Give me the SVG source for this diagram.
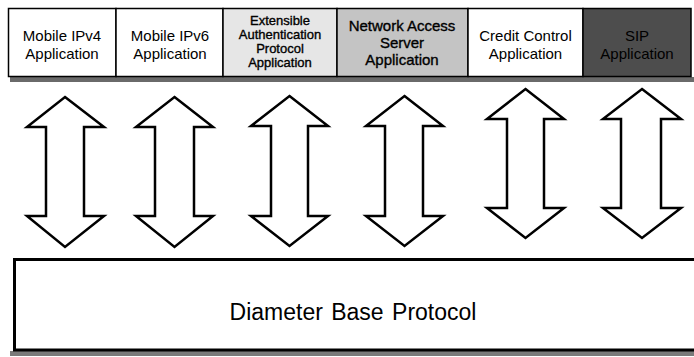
<svg xmlns="http://www.w3.org/2000/svg" width="694" height="357" viewBox="0 0 694 357">
<style>
.box{stroke:#000;stroke-width:1.5}
.t{font-family:"Liberation Sans",Arial,sans-serif;fill:#000;text-anchor:middle}
.t15{font-size:15px}
.t13{font-size:13px}
.heavy{stroke:#000;stroke-width:0.35}
.arr{fill:#fff;stroke:#000;stroke-width:2.5;stroke-linejoin:miter}
</style>
<rect width="694" height="357" fill="#fff"/>
<rect x="10" y="77" width="684" height="5" fill="#6a6a6a"/>
<g id="mobile-ipv4">
<rect class="box" x="8.5" y="8.5" width="107.5" height="68" fill="#fff"/>
<text class="t t15" x="62" y="41">Mobile IPv4</text>
<text class="t t15" x="62" y="59">Application</text>
</g>
<g id="mobile-ipv6">
<rect class="box" x="116" y="8.5" width="107" height="68" fill="#fff"/>
<text class="t t15" x="170" y="41">Mobile IPv6</text>
<text class="t t15" x="170" y="59">Application</text>
</g>
<g id="eap">
<rect class="box" x="223" y="8.5" width="114" height="68" fill="#e6e6e6"/>
<text class="t t13 heavy" x="280" y="25">Extensible</text>
<text class="t t13 heavy" x="280" y="39">Authentication</text>
<text class="t t13 heavy" x="280" y="53">Protocol</text>
<text class="t t13 heavy" x="280" y="67">Application</text>
</g>
<g id="nas">
<rect class="box" x="337" y="8.5" width="131" height="68" fill="#c4c4c4"/>
<text class="t t15 heavy" x="402" y="31">Network Access</text>
<text class="t t15 heavy" x="402" y="48">Server</text>
<text class="t t15 heavy" x="402" y="65">Application</text>
</g>
<g id="credit-control">
<rect class="box" x="468" y="8.5" width="115" height="68" fill="#fff"/>
<text class="t t15" x="525.5" y="41">Credit Control</text>
<text class="t t15" x="525.5" y="59">Application</text>
</g>
<g id="sip">
<rect class="box" x="583" y="8.5" width="108" height="68" fill="#4d4d4d"/>
<text class="t t15" x="637" y="41" fill="#151515">SIP</text>
<text class="t t15" x="637" y="59" fill="#151515">Application</text>
</g>
<g id="diameter-base">
<rect x="10" y="351" width="684" height="5" fill="#7a7a7a"/>
<rect x="14.5" y="259.5" width="690" height="90.5" fill="#fff" stroke="#000" stroke-width="3"/>
<text class="t" x="353" y="320" font-size="23" word-spacing="2">Diameter Base Protocol</text>
</g>
<g id="connectors">
<polygon class="arr" points="65,97 104,127 84,127 84,216 104,216 65,247 27,216 46,216 46,127 27,127"/>
<polygon class="arr" points="174.5,97 213,127 194,127 194,216 213,216 174.5,247 136,216 155,216 155,127 136,127"/>
<polygon class="arr" points="289.5,96 328,126 308,126 308,216 328,216 289.5,246 251,216 271,216 271,126 251,126"/>
<polygon class="arr" points="404.5,96 443,126 423,126 423,216 443,216 404.5,246 366,216 385,216 385,126 366,126"/>
<polygon class="arr" points="525.5,89 564,119 544,119 544,208 564,208 525.5,238 487,208 507,208 507,119 487,119"/>
<polygon class="arr" points="642,89 681,119 661,119 661,208 681,208 642,238 603,208 621,208 621,119 603,119"/>
</g>
</svg>
